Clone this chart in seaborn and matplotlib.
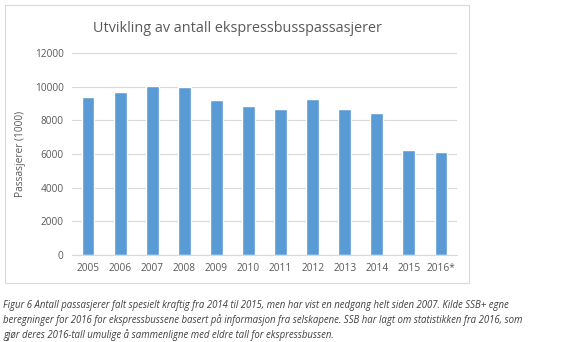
import matplotlib
matplotlib.use("Agg")
import matplotlib.pyplot as plt
import seaborn as sns
import pandas as pd
from matplotlib.patches import Rectangle

years = ["2005", "2006", "2007", "2008", "2009", "2010", "2011", "2012", "2013", "2014", "2015", "2016*"]
passengers = [9400, 9680, 10060, 10000, 9210, 8870, 8660, 9290, 8670, 8420, 6240, 6100]
yticks = [0, 2000, 4000, 6000, 8000, 10000, 12000]

title = "Utvikling av antall ekspressbusspassasjerer"
ylabel = "Passasjerer (1000)"
caption = ("Figur 6 Antall passasjerer falt spesielt kraftig fra 2014 til 2015, men har vist en nedgang helt siden 2007. Kilde SSB+ egne\n"
           "beregninger for 2016 for ekspressbussene basert på informasjon fra selskapene. SSB har lagt om statistikken fra 2016, som\n"
           "gjør deres 2016-tall umulige å sammenligne med eldre tall for ekspressbussen.")

df = pd.DataFrame({"year": years, "value": passengers})

sns.set_theme(style="white")
plt.rcParams["font.family"] = ["Open Sans", "DejaVu Sans"]

fig = plt.figure(figsize=(5.87, 3.42), dpi=100)
fig.patch.set_facecolor("white")
ax = fig.add_axes([72/587, 1-255/342, (457-72)/587, (255-53)/342])

sns.barplot(data=df, x="year", y="value", color="#5B9BD5", width=0.4, ax=ax, saturation=1)

ax.set_ylim(0, 12000)
ax.set_xlim(-0.5, len(years)-0.5)
ax.set_yticks(yticks)
ax.set_yticklabels([str(t) for t in yticks])
ax.yaxis.grid(True, color="#D9D9D9", linewidth=0.8)
ax.set_axisbelow(True)
for s in ["top", "right", "left"]:
    ax.spines[s].set_visible(False)
ax.spines["bottom"].set_color("#D9D9D9")
ax.spines["bottom"].set_linewidth(0.8)
ax.tick_params(axis="both", length=0, labelsize=7.3, colors="#595959", pad=6)
ax.set_xlabel("")
ax.set_ylabel(ylabel, fontsize=7.3, color="#595959", labelpad=6)

fig.text(237/587, 1-28/342, title, ha="center", va="center", fontsize=10.4, color="#595959")

fig.patches.append(Rectangle((5/587, 1-283/342), (469-5)/587, (283-5)/342,
                             transform=fig.transFigure, fill=False, edgecolor="#D9D9D9", linewidth=0.8))

fig.text(3/587, 1-300/342, caption, ha="left", va="top", fontsize=6.9, style="italic",
         color="#404040", linespacing=1.35)

fig.savefig("out.png", dpi=100, facecolor="white")
